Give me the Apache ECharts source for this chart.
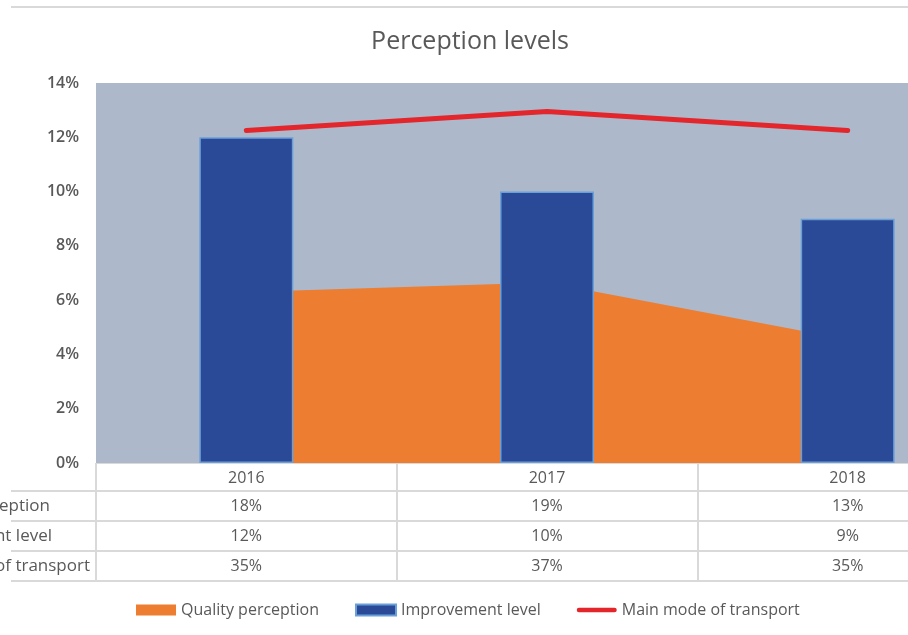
<!DOCTYPE html>
<html>
<head>
<meta charset="utf-8">
<script src="https://cdn.jsdelivr.net/npm/echarts@6/dist/echarts.min.js"></script>
<style>
  html, body { margin: 0; padding: 0; background: #fff; overflow: hidden; }
  /* the source picture is cut on the right, so the chart runs past the window */
  #chart { width: 1000px; height: 635px; }
</style>
</head>
<body>
<div id="chart"></div>
<script>
// data
const years = ["2016", "2017", "2018"]
const qualityPerception = [18, 19, 13]
const improvementLevel = [12, 10, 9]
const mainTransport = [35, 37, 35]
const rowNames = ["Quality perception", "Improvement level", "Main mode of transport"]
const rowEnds = [50, 52, 90] // row legend cut at the left edge

const FONT = "'Open Sans', 'Noto Sans', sans-serif"
const TXT = "#595959"
const LINE = "#D9D9D9"

const chart = echarts.init(document.getElementById("chart"))

const pct = v => v + "%"

// one extra x axis per table row
function tableAxis(values, offset) {
	return {
		type: "category",
		gridIndex: 0,
		position: "bottom",
		offset: offset,
		data: values.map(pct),
		axisLine: { show: false },
		axisTick: { show: false },
		axisLabel: { color: TXT, fontSize: 16, fontFamily: FONT, margin: 7 }
	}
}

const option = {
	animation: false,
	title: {
		text: "Perception levels",
		left: 465,
		textAlign: "center",
		top: 24,
		textStyle: { color: TXT, fontSize: 25, fontWeight: "normal", fontFamily: FONT }
	},
	legend: {
		left: 131,
		top: 597,
		itemWidth: 40,
		itemHeight: 11,
		itemGap: 36,
		textStyle: { color: TXT, fontSize: 16, fontFamily: FONT },
		data: [
			{ name: "Quality perception", icon: "rect" },
			{ name: "Improvement level", icon: "rect" },
			{ name: "Main mode of transport", icon: "path://M2,0 L42,0 A2,2 0 0 1 42,5 L2,5 A2,2 0 0 1 2,0 Z" }
		]
	},
	grid: {
		left: 96,
		top: 83,
		width: 902,
		height: 380,
		show: true,
		backgroundColor: "#ADB9CA",
		borderWidth: 0
	},
	xAxis: [
		{
			type: "category",
			data: years,
			axisLine: { show: true, lineStyle: { color: LINE, width: 1 } },
			axisTick: { show: true, length: 118, lineStyle: { color: LINE, width: 2 } },
			axisLabel: { color: TXT, fontSize: 16, fontFamily: FONT, margin: 7 }
		},
		tableAxis(qualityPerception, 28),
		tableAxis(improvementLevel, 58),
		tableAxis(mainTransport, 88)
	],
	yAxis: [
		{
			type: "value",
			min: 0,
			max: 14,
			interval: 2,
			splitLine: { show: false },
			axisLine: { show: false },
			axisTick: { show: false },
			axisLabel: { formatter: "{value}%", color: TXT, fontSize: 16, fontWeight: 600, fontFamily: FONT, margin: 17 }
		},
		{
			type: "value",
			min: 0,
			max: 40,
			show: false
		}
	],
	series: [
		{
			name: "Quality perception",
			type: "line",
			yAxisIndex: 1,
			data: qualityPerception,
			symbol: "none",
			z: 1,
			color: "#ED7D31",
			lineStyle: { width: 0 },
			areaStyle: { color: "#ED7D31", opacity: 1 }
		},
		{
			name: "Improvement level",
			type: "bar",
			yAxisIndex: 0,
			data: improvementLevel,
			barWidth: 94,
			z: 3,
			color: "#2A4A98",
			itemStyle: { color: "#2A4A98", borderColor: "#6A9FD8", borderWidth: 1.5 }
		},
		{
			name: "Main mode of transport",
			type: "line",
			yAxisIndex: 1,
			data: mainTransport,
			symbol: "none",
			z: 4,
			color: "#E3262B",
			lineStyle: { color: "#E3262B", width: 5, cap: "round" }
		}
	],
	graphic: [
		{ type: "line", shape: { x1: 11, y1: 7, x2: 1000, y2: 7 }, style: { stroke: LINE, lineWidth: 2 } },
		{ type: "line", shape: { x1: 11, y1: 491, x2: 1000, y2: 491 }, style: { stroke: LINE, lineWidth: 2 } },
		{ type: "line", shape: { x1: 11, y1: 521, x2: 1000, y2: 521 }, style: { stroke: LINE, lineWidth: 2 } },
		{ type: "line", shape: { x1: 11, y1: 551, x2: 1000, y2: 551 }, style: { stroke: LINE, lineWidth: 2 } },
		{ type: "line", shape: { x1: 11, y1: 581, x2: 1000, y2: 581 }, style: { stroke: LINE, lineWidth: 2 } }
	].concat(rowNames.map((name, i) => ({
		type: "text",
		x: rowEnds[i],
		y: 506 + i * 30,
		style: { text: name, fill: TXT, fontSize: 17, fontFamily: FONT, align: "right", verticalAlign: "middle" }
	})))
}

chart.setOption(option)
</script>
</body>
</html>
